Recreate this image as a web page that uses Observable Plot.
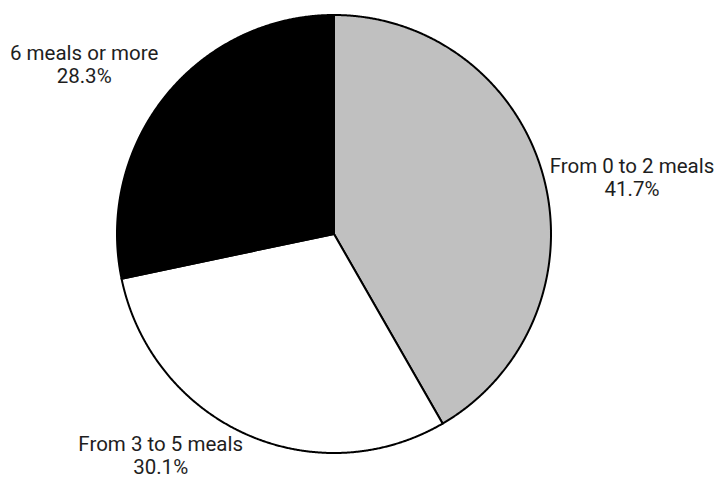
<!DOCTYPE html>
<html>
<head>
<meta charset="utf-8">
<script src="https://cdn.jsdelivr.net/npm/d3@7"></script>
<script src="https://cdn.jsdelivr.net/npm/@observablehq/plot@0.6"></script>
<style>
  html, body { margin: 0; padding: 0; background: #ffffff; }
  #chart svg { display: block; }
</style>
</head>
<body>
<div id="chart"></div>
<script>
// Share of respondents by number of meals
const categories = ["From 0 to 2 meals", "From 3 to 5 meals", "6 meals or more"];
const shares = [41.7, 30.1, 28.3];
const sliceColors = ["#c0c0c0", "#ffffff", "#000000"];

// Label placement around the pie: angular shift (degrees) and distance in pie radii
const labelPlacement = {
  "From 0 to 2 meals": { shift: 4.3, dist: 1.3975 },
  "From 3 to 5 meals": { shift: 14.2, dist: 1.289 },
  "6 meals or more": { shift: -5.1, dist: 1.389 }
};

const W = 716, H = 489;
const cx = 333.5, cy = 233.5, rx = 217, ry = 219;

// Slice angles, clockwise from 12 o'clock, in the order the data are listed
const arcs = d3.pie().sort(null).value(d => d)(shares);

// Outline of each slice: centre, points along the rim, back to centre
const step = Math.PI / 720;
const outline = [];
arcs.forEach((a, i) => {
  const key = categories[i];
  outline.push({ key, x: 0, y: 0 });
  const n = Math.max(2, Math.ceil((a.endAngle - a.startAngle) / step));
  for (let k = 0; k <= n; k++) {
    const t = a.startAngle + (a.endAngle - a.startAngle) * k / n;
    outline.push({ key, x: Math.sin(t), y: Math.cos(t) });
  }
  outline.push({ key, x: 0, y: 0 });
});

const labels = arcs.map((a, i) => {
  const key = categories[i];
  const p = labelPlacement[key];
  const mid = (a.startAngle + a.endAngle) / 2 + p.shift * Math.PI / 180;
  return {
    key,
    text: `${key}\n${shares[i].toFixed(1)}%`,
    x: Math.sin(mid) * p.dist,
    y: Math.cos(mid) * p.dist
  };
});

const chart = Plot.plot({
  width: W,
  height: H,
  margin: 0,
  style: { background: "#ffffff", overflow: "visible" },
  x: { axis: null, domain: [-cx / rx, (W - cx) / rx], range: [0, W] },
  y: { axis: null, domain: [-(H - cy) / ry, cy / ry], range: [H, 0] },
  color: { domain: categories, range: sliceColors },
  marks: [
    Plot.line(outline, {
      x: "x", y: "y", z: "key",
      fill: "key",
      stroke: "#000000",
      strokeWidth: 2,
      strokeLinejoin: "round",
      curve: "linear"
    }),
    Plot.text(labels, {
      x: "x", y: "y", text: "text",
      textAnchor: "middle",
      lineAnchor: "middle",
      lineHeight: 1.12,
      fontSize: 20.5,
      fontFamily: "Roboto, 'Liberation Sans', sans-serif",
      fill: "#1e1e1e"
    })
  ]
});

document.getElementById("chart").appendChild(chart);
</script>
</body>
</html>
